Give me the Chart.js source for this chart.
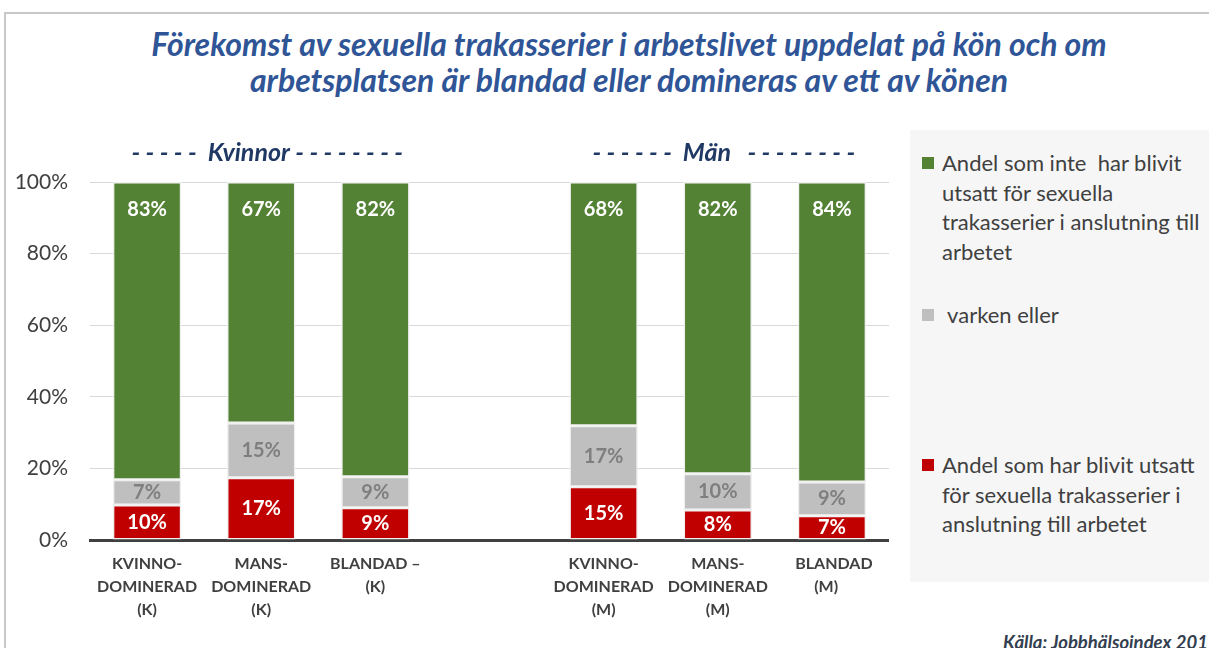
<!DOCTYPE html>
<html lang="sv">
<head>
<meta charset="utf-8">
<title>Sexuella trakasserier i arbetslivet</title>
<script src="https://cdn.jsdelivr.net/npm/chart.js@4"></script>
<style>
  html, body { margin: 0; padding: 0; }
  body { width: 1209px; height: 648px; overflow: hidden; background: #fff; position: relative; font-family: Lato, "Open Sans", sans-serif; }
  .ram { position: absolute; left: 4px; top: 12px; width: 1300px; height: 700px; border-top: 2px solid #c8c8c8; border-left: 2px solid #c8c8c8; }
  .rubrik { position: absolute; left: 79px; width: 1100px; top: 26px; text-align: center; font: italic bold 32px/36px Lato, sans-serif; color: #2f5597; }
  #diagramWrap { position: absolute; left: 0; top: 0; width: 889px; height: 648px; }
  .forklaring { position: absolute; left: 910px; top: 130px; width: 299px; height: 452px; background: #f6f6f6; }
  .post { position: absolute; left: 12px; font: 22px/29.5px Lato, sans-serif; color: #404040; white-space: pre; }
  .post i { position: absolute; left: 0; top: 9px; width: 12px; height: 12px; }
  .post span { display: block; padding-left: 20px; }
  .kalla { position: absolute; left: 1003px; top: 631px; font: italic bold 18.5px Lato, sans-serif; color: #333f50; white-space: nowrap; }
</style>
</head>
<body>
<div class="ram"></div>
<div class="rubrik">Förekomst av sexuella trakasserier i arbetslivet uppdelat på kön och om<br>arbetsplatsen är blandad eller domineras av ett av könen</div>
<div id="diagramWrap"><canvas id="diagram" width="889" height="648"></canvas></div>
<div class="forklaring" id="forklaring"></div>
<div class="kalla">Källa: Jobbhälsoindex 2019</div>

<script>
// Kategorier (en tom kategori skiljer kvinnor och män)
const kategorier = [
  ['KVINNO-', 'DOMINERAD', '(K)'],
  ['MANS-', 'DOMINERAD', '(K)'],
  ['BLANDAD –', '(K)'],
  '',
  ['KVINNO-', 'DOMINERAD', '(M)'],
  ['MANS-', 'DOMINERAD', '(M)'],
  [' BLANDAD', '(M)   ']
];

// Andelar i procent
const utsatt = [9.8, 17.4, 9.0, null, 14.9, 8.4, 6.8];
const varkenEller = [7.0, 15.3, 8.7, null, 17.0, 10.1, 9.4];
const inteUtsatt = [83.2, 67.3, 82.3, null, 68.1, 81.5, 83.8];

const serieNamn = [
  'Andel som har blivit utsatt\nför sexuella trakasserier i\nanslutning till arbetet',
  ' varken eller',
  'Andel som inte  har blivit\nutsatt för sexuella\ntrakasserier i anslutning till\narbetet'
];
const serieFarger = ['#c00000', '#bfbfbf', '#548235'];
const etikettFarger = ['#ffffff', '#7f7f7f', '#ffffff'];

const yTicks = [0, 20, 40, 60, 80, 100];

// Grupprubriker ovanför staplarna
const gruppRubriker = ['- - - - -  Kvinnor - - - - - - - -', '- - - - - -  Män   - - - - - - - -'];
const gruppIndex = [[0, 2], [4, 6]];

// Förklaringens lägen (px från panelens topp)
const forklaringTopp = [18, 170, 320];

// Egen förklaring (grön, grå, röd uppifrån)
const forklaring = document.getElementById('forklaring');
[2, 1, 0].forEach(function (i, n) {
  const post = document.createElement('div');
  post.className = 'post';
  post.style.top = forklaringTopp[n] + 'px';
  const ruta = document.createElement('i');
  ruta.style.background = serieFarger[i];
  const text = document.createElement('span');
  text.textContent = serieNamn[i];
  post.appendChild(ruta);
  post.appendChild(text);
  forklaring.appendChild(post);
});

// Plugin för värdeetiketter i staplarna
const stapelEtiketter = {
  id: 'stapelEtiketter',
  afterDatasetsDraw(chart) {
    const ctx = chart.ctx;
    ctx.save();
    ctx.font = 'bold 20px Lato, sans-serif';
    ctx.textAlign = 'center';
    ctx.textBaseline = 'middle';
    chart.data.datasets.forEach(function (ds, di) {
      const meta = chart.getDatasetMeta(di);
      meta.data.forEach(function (el, i) {
        const v = ds.data[i];
        if (v === null || v === undefined) return;
        const y = di === 2 ? el.y + 28 : (el.y + el.base) / 2;
        ctx.fillStyle = etikettFarger[di];
        ctx.fillText(Math.round(v) + '%', el.x, y);
      });
    });
    ctx.restore();
  }
};

// Plugin för grupprubrikerna "Kvinnor" och "Män"
const gruppPlugin = {
  id: 'gruppPlugin',
  afterDraw(chart) {
    const ctx = chart.ctx;
    const x = chart.scales.x;
    ctx.save();
    ctx.font = 'italic bold 25px Lato, sans-serif';
    ctx.fillStyle = '#1f3864';
    ctx.textAlign = 'center';
    ctx.textBaseline = 'middle';
    gruppRubriker.forEach(function (txt, g) {
      const mitt = (x.getPixelForValue(gruppIndex[g][0]) + x.getPixelForValue(gruppIndex[g][1])) / 2;
      ctx.fillText(txt, mitt + 6, chart.chartArea.top - 29);
    });
    ctx.restore();
  }
};

const datasets = [utsatt, varkenEller, inteUtsatt].map(function (d, i) {
  return {
    label: serieNamn[i].replace(/\n/g, ' ').trim(),
    data: d,
    backgroundColor: serieFarger[i],
    borderColor: '#f0f0f0',
    borderWidth: 1.5,
    borderSkipped: false,
    barPercentage: 0.6,
    categoryPercentage: 1
  };
});

new Chart(document.getElementById('diagram'), {
  type: 'bar',
  data: { labels: kategorier, datasets: datasets },
  options: {
    responsive: false,
    animation: false,
    devicePixelRatio: 1,
    layout: { padding: { top: 182, left: 0, right: 0, bottom: 0 } },
    plugins: {
      legend: { display: false },
      tooltip: { enabled: false }
    },
    scales: {
      x: {
        stacked: true,
        grid: { display: false, drawTicks: false },
        border: { display: true, color: '#404040', width: 3 },
        ticks: {
          autoSkip: false,
          maxRotation: 0,
          padding: 12,
          color: '#404040',
          font: { family: 'Lato', weight: 'bold', size: 16, lineHeight: 1.45 }
        },
        afterFit: function (scale) { scale.height = 108; }
      },
      y: {
        stacked: true,
        min: 0,
        max: 100,
        afterBuildTicks: function (scale) {
          scale.ticks = yTicks.map(function (v) { return { value: v }; });
        },
        grid: { color: '#d9d9d9', lineWidth: 1, drawTicks: false },
        border: { display: false },
        ticks: {
          padding: 22,
          color: '#404040',
          font: { family: 'Lato', size: 21 },
          callback: function (v) { return v + '%'; }
        },
        afterFit: function (scale) { scale.width = 90; }
      }
    }
  },
  plugins: [stapelEtiketter, gruppPlugin]
});
</script>
</body>
</html>
